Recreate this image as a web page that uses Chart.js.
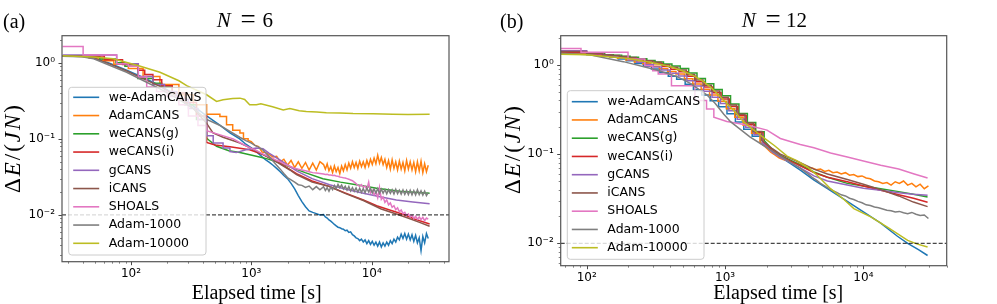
<!DOCTYPE html>
<html>
<head>
<meta charset="utf-8">
<script src="https://cdn.jsdelivr.net/npm/chart.js@4.4.0/dist/chart.umd.min.js"></script>
<style>
body { margin: 0; background: #fff; width: 997px; height: 304px; overflow: hidden; position: relative; }
canvas { position: absolute; top: 0; }
#chartA { left: 0; }
#chartB { left: 490px; }
</style>
</head>
<body>
<canvas id="chartA" width="490" height="304"></canvas>
<canvas id="chartB" width="507" height="304"></canvas>
<script>
// series names and colours (matplotlib tab10)
const names = ['we-AdamCANS', 'AdamCANS', 'weCANS(g)', 'weCANS(i)', 'gCANS', 'iCANS', 'SHOALS', 'Adam-1000', 'Adam-10000'];
const colors = ['#1f77b4', '#ff7f0e', '#2ca02c', '#d62728', '#9467bd', '#8c564b', '#e377c2', '#7f7f7f', '#bcbd22'];

// tick labels
const xTickVals = [100, 1000, 10000];
const yTickVals = [1, 0.1, 0.01];
const targetLevel = 0.01;

// axis ranges
const aXRange = [26.7, 43900];
const aYRange = [0.00243, 2.27];
const bXRange = [64.9, 40000];
const bYRange = [0.00561, 2.13];

// time grids for the noisy late parts [s]
const tGrid = [1000, 1072, 1148, 1230, 1318, 1413, 1514, 1622, 1738, 1862, 1995, 2138, 2291, 2455, 2630, 2818, 3020, 3236, 3467, 3715,
  3981, 4266, 4571, 4898, 5248, 5623, 6026, 6457, 6918, 7413, 7943, 8511, 9120, 9772, 10471, 11220, 12023, 12882, 13804, 14791,
  15849, 16982, 18197, 19498, 20893, 22387, 23988, 25704, 27542, 29512];
const tFine = [3981, 4121, 4266, 4416, 4571, 4732, 4898, 5070, 5248, 5433, 5623, 5821, 6026, 6237, 6457, 6683, 6918, 7161, 7413, 7674,
  7943, 8222, 8511, 8810, 9120, 9441, 9772, 10116, 10471, 10839, 11220, 11614, 12023, 12445, 12882, 13335, 13804, 14289, 14791, 15311,
  15849, 16406, 16982, 17579, 18197, 18836, 19498, 20184, 20893, 21627, 22387, 23174, 23988, 24831, 25704, 26607, 27542, 28510, 29512];

// ---------- panel (a), N = 6 ----------
const aBlueHead = [[27, 1.24], [40, 1.22], [50, 1.16], [67, 0.98], [92, 0.8], [126, 0.64], [174, 0.5], [250, 0.36], [330, 0.27], [425, 0.2], [550, 0.15], [664, 0.12], [800, 0.1], [900, 0.085]];
const aBlueMid = [0.076, 0.070, 0.064, 0.058, 0.053, 0.049, 0.045, 0.041, 0.037, 0.033, 0.030, 0.026, 0.022, 0.018, 0.0150, 0.0128, 0.0113, 0.0108, 0.0104, 0.0100];
const aBlueFine = [0.0101, 0.0094, 0.0091, 0.0086, 0.0083, 0.0079, 0.0075, 0.0072, 0.0069, 0.0068, 0.0066, 0.0065, 0.0062, 0.0063, 0.0059, 0.0060, 0.0055, 0.0053, 0.0050, 0.0049,
  0.0046, 0.0048, 0.0044, 0.0047, 0.0042, 0.0046, 0.0041, 0.0045, 0.0040, 0.0044, 0.0039, 0.0044, 0.0038, 0.0043, 0.0039, 0.0044, 0.0040, 0.0046, 0.0042, 0.0048,
  0.0044, 0.0051, 0.0047, 0.0056, 0.0049, 0.0057, 0.0048, 0.0056, 0.0047, 0.0055, 0.0045, 0.0054, 0.0043, 0.0050, 0.0034, 0.0052, 0.0043, 0.0057, 0.0049];

const aOrangeHead = [[27, 1.24], [45, 1.16], [58, 1.06], [72, 0.96], [95, 0.84], [126, 0.66], [174, 0.52], [250, 0.38], [330, 0.28], [425, 0.21], [548, 0.197], [622, 0.153], [700, 0.13], [804, 0.119], [860, 0.1], [940, 0.095]];
const aOrangeMid = [0.092, 0.082, 0.079, 0.067, 0.066, 0.062, 0.058, 0.059, 0.050, 0.054, 0.045, 0.052, 0.042, 0.050, 0.041, 0.049, 0.039, 0.048, 0.039, 0.050];
const aOrangeFine = [0.046, 0.040, 0.047, 0.038, 0.043, 0.036, 0.044, 0.037, 0.042, 0.035, 0.044, 0.038, 0.046, 0.039, 0.048, 0.041, 0.050, 0.042, 0.049, 0.041,
  0.051, 0.043, 0.050, 0.042, 0.052, 0.044, 0.054, 0.046, 0.056, 0.047, 0.061, 0.048, 0.057, 0.046, 0.054, 0.042, 0.052, 0.040, 0.053, 0.041,
  0.050, 0.039, 0.051, 0.040, 0.049, 0.038, 0.052, 0.040, 0.050, 0.039, 0.049, 0.037, 0.050, 0.038, 0.051, 0.036, 0.047, 0.037, 0.045];

const aGreenHead = [[27, 1.22], [55, 1.12], [75, 1.0], [89, 0.9], [114, 0.62], [152, 0.54], [180, 0.48], [220, 0.4], [280, 0.28], [350, 0.18], [425, 0.102]];
const aGreenRest = [[514, 0.08], [650, 0.07], [804, 0.066], [1100, 0.059], [1336, 0.055], [1700, 0.049], [2090, 0.043], [2800, 0.036], [3930, 0.030], [5500, 0.027],
  [7450, 0.025], [11000, 0.0225], [17000, 0.0205], [24000, 0.0197], [30300, 0.0193]];

const aRedHead = [[27, 1.23], [60, 1.1], [85, 0.95], [114, 0.8], [130, 0.7], [152, 0.6], [180, 0.5], [220, 0.4], [280, 0.3], [350, 0.2], [425, 0.09]];
const aRedRest = [[500, 0.083], [664, 0.079], [968, 0.072], [1254, 0.062], [1725, 0.048], [2373, 0.035], [3200, 0.028], [4470, 0.0236], [6000, 0.0195], [8530, 0.0157],
  [11000, 0.0132], [14100, 0.0116], [18200, 0.0102], [23000, 0.0088], [30300, 0.0076]];

const aPurpleHead = [[27, 1.27], [76, 0.97], [115, 0.66], [152, 0.52], [190, 0.42], [240, 0.33], [300, 0.25], [360, 0.18], [425, 0.11], [482, 0.088], [582, 0.076], [664, 0.068]];
const aPurpleRest = [[750, 0.066], [900, 0.072], [1100, 0.076], [1250, 0.074], [1400, 0.065], [1725, 0.053], [2373, 0.038], [3200, 0.03], [4470, 0.025], [6000, 0.022],
  [8530, 0.0193], [12000, 0.0172], [16030, 0.0157], [22000, 0.0148], [30300, 0.014]];

const aBrown = [[27, 1.23], [40, 1.21], [50, 1.14], [67, 0.96], [92, 0.78], [126, 0.62], [174, 0.49], [250, 0.35], [330, 0.25], [425, 0.16], [480, 0.12], [582, 0.105],
  [700, 0.095], [804, 0.088], [1000, 0.075], [1254, 0.062], [1520, 0.053], [2090, 0.039], [2373, 0.034], [3200, 0.027], [4470, 0.0236], [6000, 0.0192], [8530, 0.0155],
  [12000, 0.012], [16030, 0.0103], [20000, 0.0091], [25000, 0.008], [30300, 0.0071]];

const aPinkHead = [[27, 1.64], [40, 1.27], [76, 0.97], [95, 0.9], [115, 0.65], [135, 0.48], [163, 0.42], [200, 0.36], [250, 0.28], [300, 0.2], [360, 0.15], [425, 0.128]];
const aPinkEarly = [[560, 0.112], [706, 0.1], [850, 0.085]];
const aPinkMid = [0.075, 0.072, 0.068, 0.064, 0.061, 0.058, 0.055, 0.052, 0.050, 0.047, 0.045, 0.043, 0.041, 0.040, 0.039, 0.038, 0.037, 0.036, 0.0355, 0.035];
const aPinkFine = [0.0345, 0.0340, 0.0342, 0.0336, 0.0335, 0.0330, 0.0332, 0.0325, 0.0322, 0.0316, 0.0312, 0.0308, 0.0306, 0.0300, 0.0294, 0.0288, 0.0282, 0.0270, 0.0258, 0.0246,
  0.0238, 0.0250, 0.0232, 0.0240, 0.0218, 0.0270, 0.0195, 0.0210, 0.0185, 0.0200, 0.0168, 0.0230, 0.0160, 0.0172, 0.0146, 0.0158, 0.0136, 0.0144, 0.0126, 0.0132,
  0.0117, 0.0124, 0.0110, 0.0116, 0.0104, 0.0108, 0.0098, 0.0103, 0.0094, 0.0099, 0.0090, 0.0096, 0.0088, 0.0094, 0.0087, 0.0093, 0.0084, 0.0091, 0.0088];

const aGrayHead = [[27, 1.22], [39, 1.2], [49, 1.13], [67, 0.92], [92, 0.75], [126, 0.585], [174, 0.455], [250, 0.33], [330, 0.25], [425, 0.18], [550, 0.15], [664, 0.125], [800, 0.105], [900, 0.095]];
const aGrayMid = [0.088, 0.082, 0.078, 0.073, 0.065, 0.058, 0.051, 0.045, 0.040, 0.035, 0.031, 0.029, 0.027, 0.025, 0.0245, 0.023, 0.0240, 0.0215, 0.0236, 0.0214];
const aGrayFine = [0.0235, 0.0210, 0.0228, 0.0205, 0.0232, 0.0215, 0.0245, 0.0222, 0.0252, 0.0228, 0.0248, 0.0220, 0.0238, 0.0212, 0.0236, 0.0206, 0.0228, 0.0204, 0.0226, 0.0200,
  0.0224, 0.0198, 0.0222, 0.0196, 0.0226, 0.0200, 0.0224, 0.0195, 0.0220, 0.0194, 0.0222, 0.0192, 0.0218, 0.0193, 0.0216, 0.0190, 0.0215, 0.0192, 0.0214, 0.0189,
  0.0218, 0.0190, 0.0212, 0.0188, 0.0213, 0.0186, 0.0210, 0.0185, 0.0211, 0.0184, 0.0209, 0.0183, 0.0214, 0.0185, 0.0208, 0.0182, 0.0206, 0.0180, 0.0196];

const aOlive = [[27, 1.24], [49, 1.19], [71, 1.13], [114, 0.92], [174, 0.75], [250, 0.58], [290, 0.5], [425, 0.38], [514, 0.31], [582, 0.326], [700, 0.34], [804, 0.343],
  [880, 0.33], [968, 0.28], [1100, 0.28], [1200, 0.29], [1500, 0.265], [1840, 0.24], [2090, 0.25], [2500, 0.235], [2860, 0.229], [3500, 0.225], [4200, 0.221],
  [5420, 0.218], [7000, 0.215], [10260, 0.214], [15000, 0.211], [20000, 0.209], [30300, 0.21]];

// ---------- panel (b), N = 12 ----------
const bBlueHead = [[65, 1.37], [100, 1.31], [127, 1.267], [147, 1.225], [169, 1.169], [194, 1.116], [223, 1.039], [257, 0.968], [294, 0.9], [338, 0.822], [389, 0.749],
  [447, 0.693], [515, 0.608], [591, 0.529], [679, 0.462], [781, 0.398], [899, 0.339], [1033, 0.283], [1188, 0.23], [1366, 0.19], [1571, 0.159], [1807, 0.132]];
const bBlueRest = [[2000, 0.12], [2500, 0.093], [3000, 0.078], [3500, 0.066], [4400, 0.051], [5500, 0.041], [7650, 0.0295], [10000, 0.0225], [13340, 0.0168],
  [17620, 0.012], [20900, 0.0100], [25000, 0.0085], [29100, 0.0073]];

const bOrangeHead = [[65, 1.36], [100, 1.31], [126, 1.267], [146, 1.238], [167, 1.193], [192, 1.14], [221, 1.083], [254, 1.031], [291, 0.97], [335, 0.906], [385, 0.845],
  [442, 0.791], [509, 0.702], [585, 0.611], [672, 0.534], [773, 0.46], [889, 0.391], [1022, 0.323], [1176, 0.259], [1352, 0.211], [1555, 0.172], [1789, 0.138]];
const bOrangeTail = [0.105, 0.098, 0.091, 0.087, 0.085, 0.082, 0.080, 0.077, 0.075, 0.071, 0.070, 0.067, 0.068, 0.064, 0.066, 0.062, 0.063, 0.060, 0.062, 0.058,
  0.059, 0.056, 0.057, 0.054, 0.053, 0.050, 0.049, 0.047, 0.048, 0.045, 0.049, 0.047, 0.050, 0.045, 0.047, 0.043, 0.046, 0.041, 0.044];

const bGreenHead = [[65, 1.40], [100, 1.34], [135, 1.306], [156, 1.288], [179, 1.253], [206, 1.221], [237, 1.171], [272, 1.126], [312, 1.08], [359, 1.027], [413, 0.976],
  [474, 0.913], [546, 0.811], [627, 0.706], [721, 0.616], [829, 0.531], [954, 0.451], [1096, 0.366], [1260, 0.285], [1450, 0.226], [1667, 0.178], [1918, 0.142]];
const bGreenRest = [[2200, 0.112], [2510, 0.097], [3000, 0.085], [3500, 0.075], [4390, 0.063], [5500, 0.055], [7650, 0.047], [10000, 0.044], [13340, 0.041],
  [18000, 0.038], [23000, 0.0355], [29100, 0.0331]];

const bRedHead = [[65, 1.38], [100, 1.32], [133, 1.28], [153, 1.25], [175, 1.217], [202, 1.175], [233, 1.127], [267, 1.073], [306, 1.03], [352, 0.962], [405, 0.897],
  [465, 0.839], [536, 0.746], [615, 0.649], [707, 0.567], [813, 0.488], [935, 0.415], [1075, 0.343], [1236, 0.272], [1422, 0.217], [1635, 0.175], [1881, 0.138]];
const bRedRest = [[2200, 0.11], [2510, 0.095], [3000, 0.083], [3500, 0.074], [4390, 0.062], [5500, 0.055], [7650, 0.049], [10000, 0.044], [13340, 0.0394],
  [18000, 0.035], [23000, 0.032], [29100, 0.0289]];

const bPurpleHead = [[65, 1.44], [100, 1.34], [131, 1.28], [152, 1.25], [174, 1.193], [200, 1.14], [230, 1.072], [265, 1.01], [303, 0.95], [348, 0.878], [401, 0.81],
  [461, 0.75], [530, 0.666], [609, 0.58], [700, 0.506], [805, 0.436], [926, 0.371], [1065, 0.306], [1224, 0.246], [1408, 0.2], [1619, 0.165], [1862, 0.134]];
const bPurpleRest = [[2200, 0.105], [2510, 0.092], [3000, 0.08], [3500, 0.07], [4390, 0.057], [5500, 0.05], [7650, 0.045], [10000, 0.0415], [13340, 0.0394],
  [18000, 0.037], [23000, 0.0355], [29100, 0.0346]];

const bBrownHead = [[65, 1.42], [100, 1.35], [130, 1.293], [150, 1.275], [172, 1.241], [198, 1.21], [228, 1.16], [262, 1.115], [300, 1.07], [345, 1.009], [397, 0.941],
  [456, 0.88], [525, 0.782], [603, 0.68], [693, 0.594], [797, 0.512], [917, 0.435], [1054, 0.356], [1212, 0.28], [1394, 0.224], [1603, 0.18], [1844, 0.143]];
const bBrownRest = [[2200, 0.115], [2510, 0.1], [3000, 0.089], [3500, 0.08], [4390, 0.068], [5500, 0.06], [7650, 0.052], [10000, 0.046], [13340, 0.04],
  [18000, 0.034], [23000, 0.029], [29100, 0.0258]];

const bPinkHead = [[65, 1.53], [91, 1.39], [199, 1.17], [263, 0.98], [300, 0.86], [329, 0.79], [410, 0.585], [606, 0.40], [735, 0.32], [830, 0.26]];
const bPinkRest = [[1030, 0.232], [1440, 0.212], [2010, 0.186], [2510, 0.15], [3000, 0.138], [3500, 0.128], [4390, 0.118], [5790, 0.103], [7650, 0.093],
  [10000, 0.084], [13340, 0.0752], [18000, 0.068], [23300, 0.06], [29100, 0.054]];

const bGrayHead = [[65, 1.35], [105, 1.3], [184, 1.09], [321, 0.88], [450, 0.74], [561, 0.623], [741, 0.46], [850, 0.37], [980, 0.28], [1100, 0.23], [1290, 0.19],
  [1520, 0.155], [1900, 0.125]];
const bGrayTail = [0.112, 0.104, 0.097, 0.091, 0.085, 0.080, 0.075, 0.070, 0.065, 0.060, 0.055, 0.051, 0.047, 0.044, 0.041, 0.039, 0.037, 0.035, 0.034, 0.032,
  0.031, 0.0295, 0.0285, 0.027, 0.0265, 0.0255, 0.025, 0.0243, 0.0235, 0.0232, 0.0225, 0.0228, 0.0220, 0.0215, 0.0222, 0.0212, 0.0205, 0.0208, 0.0190];

const bOlive = [[65, 1.32], [100, 1.3], [200, 1.18], [300, 1.06], [400, 0.96], [500, 0.85], [600, 0.75], [700, 0.65], [800, 0.55], [900, 0.46], [980, 0.4],
  [1090, 0.34], [1200, 0.29], [1365, 0.23], [1700, 0.175], [2010, 0.144], [2270, 0.125], [2810, 0.095], [3330, 0.084], [3930, 0.072], [4630, 0.058], [5790, 0.041],
  [7240, 0.031], [8530, 0.0245], [11300, 0.0198], [14900, 0.0152], [20900, 0.0108], [24600, 0.0098], [29100, 0.0091]];

// step levels -> corner points
function stairs(pts) {
  const out = [];
  pts.forEach((p, i) => {
    if (i > 0) out.push([p[0], pts[i - 1][1]]);
    out.push(p);
  });
  return out;
}
function onGrid(ys, start) {
  return ys.map((y, i) => [tGrid[start + i], y]);
}
function onFine(ys) {
  return ys.map((y, i) => [tFine[i], y]);
}

const seriesA = [
  aBlueHead.concat(onGrid(aBlueMid, 0), onFine(aBlueFine)),
  stairs(aOrangeHead).concat(onGrid(aOrangeMid, 0), onFine(aOrangeFine)),
  stairs(aGreenHead).concat(aGreenRest),
  stairs(aRedHead).concat(aRedRest),
  stairs(aPurpleHead).concat(aPurpleRest),
  aBrown,
  stairs(aPinkHead).concat(aPinkEarly, onGrid(aPinkMid, 0), onFine(aPinkFine)),
  aGrayHead.concat(onGrid(aGrayMid, 0), onFine(aGrayFine)),
  aOlive
];
const seriesB = [
  stairs(bBlueHead).concat(bBlueRest),
  stairs(bOrangeHead).concat(onGrid(bOrangeTail, 11)),
  stairs(bGreenHead).concat(bGreenRest),
  stairs(bRedHead).concat(bRedRest),
  stairs(bPurpleHead).concat(bPurpleRest),
  stairs(bBrownHead).concat(bBrownRest),
  stairs(bPinkHead).concat(bPinkRest),
  bGrayHead.concat(onGrid(bGrayTail, 11)),
  bOlive
];

const sup = {'-': '\u207b', '0': '\u2070', '1': '\u00b9', '2': '\u00b2', '3': '\u00b3', '4': '\u2074'};
function decadeLabel(v) {
  const e = Math.round(Math.log10(v));
  return '10' + String(e).split('').map(c => sup[c]).join('');
}

function logTicks(min, max) {
  const out = [];
  for (let e = Math.floor(Math.log10(min)); e <= Math.ceil(Math.log10(max)); e++) {
    for (let m = 1; m <= 9; m++) {
      const v = m * Math.pow(10, e);
      if (v >= min && v <= max) out.push({v: v, major: m === 1});
    }
  }
  return out;
}

function roundRect(ctx, x, y, w, h, r) {
  ctx.beginPath();
  ctx.moveTo(x + r, y);
  ctx.lineTo(x + w - r, y); ctx.arcTo(x + w, y, x + w, y + r, r);
  ctx.lineTo(x + w, y + h - r); ctx.arcTo(x + w, y + h, x + w - r, y + h, r);
  ctx.lineTo(x + r, y + h); ctx.arcTo(x, y + h, x, y + h - r, r);
  ctx.lineTo(x, y + r); ctx.arcTo(x, y, x + r, y, r);
  ctx.closePath();
}

const SERIF = '"Liberation Serif", "DejaVu Serif", serif';

// pieces: [text, italic, x, y, size]
function drawPieces(ctx, pieces) {
  pieces.forEach(p => {
    ctx.font = (p[1] ? 'italic ' : '') + p[4] + 'px ' + SERIF;
    ctx.fillText(p[0], p[2], p[3]);
  });
}

function decoPlugin(o) {
  return {
    id: 'deco',
    afterDatasetsDraw(chart) {
      const ctx = chart.ctx;
      const L = o.legend;
      ctx.save();
      roundRect(ctx, L.x, L.y, L.w, L.h, 3);
      ctx.fillStyle = 'rgba(255,255,255,0.8)';
      ctx.fill();
      ctx.strokeStyle = '#cccccc';
      ctx.lineWidth = 1;
      ctx.stroke();
      ctx.font = '12.5px "DejaVu Sans"';
      ctx.textBaseline = 'middle';
      ctx.fillStyle = '#000';
      chart.data.datasets.forEach((d, i) => {
        if (d.isRef) return;
        const y = L.y + L.first + i * 18.25;
        ctx.strokeStyle = d.borderColor;
        ctx.lineWidth = 1.6;
        ctx.beginPath();
        ctx.moveTo(L.x + 4.5, y);
        ctx.lineTo(L.x + 30.5, y);
        ctx.stroke();
        ctx.fillText(d.label, L.x + 40, y);
      });
      ctx.restore();
    },
    afterDraw(chart) {
      const ctx = chart.ctx, a = chart.chartArea;
      const sx = chart.scales.x, sy = chart.scales.y;
      ctx.save();
      ctx.strokeStyle = '#333';
      logTicks(sx.min, sx.max).forEach(t => {
        const p = Math.round(sx.getPixelForValue(t.v)) + 0.5;
        ctx.lineWidth = t.major ? 0.9 : 0.6;
        ctx.beginPath(); ctx.moveTo(p, a.bottom); ctx.lineTo(p, a.bottom + (t.major ? 3.5 : 2)); ctx.stroke();
      });
      logTicks(sy.min, sy.max).forEach(t => {
        const p = Math.round(sy.getPixelForValue(t.v)) + 0.5;
        ctx.lineWidth = t.major ? 0.9 : 0.6;
        ctx.beginPath(); ctx.moveTo(a.left, p); ctx.lineTo(a.left - (t.major ? 3.5 : 2), p); ctx.stroke();
      });
      ctx.strokeStyle = '#555';
      ctx.lineWidth = 1.2;
      ctx.strokeRect(a.left, a.top, a.right - a.left, a.bottom - a.top);

      ctx.fillStyle = '#000';
      ctx.textBaseline = 'alphabetic';
      ctx.textAlign = 'left';
      drawPieces(ctx, [[o.letter, false, o.letterX, 27.5, 20]]);
      drawPieces(ctx, o.title);

      ctx.textAlign = 'center';
      ctx.font = '20px ' + SERIF;
      ctx.fillText('Elapsed time [s]', o.xlabX, 299);

      // y label  ΔE/(JN)
      const parts = [['\u0394', false], ['E', true], ['/', false], ['(', false], ['J', true], ['N', true], [')', false]];
      ctx.textAlign = 'left';
      ctx.textBaseline = 'middle';
      let total = 0;
      const widths = parts.map(p => {
        ctx.font = (p[1] ? 'italic ' : '') + '23px ' + SERIF;
        const w = ctx.measureText(p[0]).width;
        total += w;
        return w;
      });
      const gap = Math.max(0, (88 - total) / (parts.length - 1));
      ctx.translate(o.ylabX, o.ylabY);
      ctx.rotate(-Math.PI / 2);
      let u = -(total + gap * (parts.length - 1)) / 2;
      parts.forEach((p, i) => {
        ctx.font = (p[1] ? 'italic ' : '') + '23px ' + SERIF;
        ctx.fillText(p[0], u, 0);
        u += widths[i] + gap;
      });
      ctx.restore();
    }
  };
}

function makeDatasets(series, xr) {
  const ds = series.map((d, i) => ({
    label: names[i],
    data: d,
    borderColor: colors[i],
    borderWidth: 1.5,
    pointRadius: 0,
    fill: false,
    tension: 0,
    order: -i
  }));
  ds.push({
    label: '',
    data: [[xr[0], targetLevel], [xr[1], targetLevel]],
    borderColor: 'rgba(0,0,0,0.72)',
    borderWidth: 1.2,
    borderDash: [4, 2],
    pointRadius: 0,
    order: -99,
    isRef: true
  });
  return ds;
}

function makeChart(id, series, o) {
  const tickFont = {family: 'DejaVu Sans', size: 12};
  return new Chart(document.getElementById(id), {
    type: 'line',
    data: {datasets: makeDatasets(series, o.xr)},
    options: {
      responsive: false,
      animation: false,
      devicePixelRatio: 1,
      events: [],
      layout: {padding: {top: o.top, right: o.right, left: 0, bottom: 0}},
      plugins: {legend: {display: false}, tooltip: {enabled: false}, title: {display: false}},
      scales: {
        x: {
          type: 'logarithmic',
          min: o.xr[0],
          max: o.xr[1],
          afterFit: s => { s.height = o.xh; },
          afterBuildTicks: s => { s.ticks = xTickVals.map(v => ({value: v})); },
          ticks: {callback: v => decadeLabel(v), autoSkip: false, maxRotation: 0, padding: 1, color: '#000', font: tickFont},
          grid: {display: true, drawOnChartArea: false, drawTicks: true, tickLength: 4, color: 'rgba(0,0,0,0)'},
          border: {display: false}
        },
        y: {
          type: 'logarithmic',
          min: o.yr[0],
          max: o.yr[1],
          afterFit: s => { s.width = o.yw; },
          afterBuildTicks: s => { s.ticks = yTickVals.map(v => ({value: v})); },
          ticks: {callback: v => decadeLabel(v), autoSkip: false, padding: 3, color: '#000', font: tickFont},
          grid: {display: true, drawOnChartArea: false, drawTicks: true, tickLength: 4, color: 'rgba(0,0,0,0)'},
          border: {display: false}
        }
      }
    },
    plugins: [decoPlugin(o)]
  });
}

makeChart('chartA', seriesA, {
  xr: aXRange, yr: aYRange, top: 35.7, right: 41, yw: 62, xh: 42.3,
  legend: {x: 68.7, y: 87.3, w: 137.3, h: 167.7, first: 10},
  letter: '(a)', letterX: 3,
  title: [['N', true, 216.7, 26.7, 21], ['=', false, 240.5, 27.5, 27], ['6', false, 262.5, 26.7, 21]],
  xlabX: 256.7, ylabX: 14, ylabY: 149
});
makeChart('chartB', seriesB, {
  xr: bXRange, yr: bYRange, top: 35.7, right: 50.3, yw: 70.7, xh: 38.3,
  legend: {x: 77.3, y: 90.7, w: 136.7, h: 168.6, first: 11},
  letter: '(b)', letterX: 10,
  title: [['N', true, 251.7, 26.7, 21], ['=', false, 275.5, 27.5, 27], ['12', false, 296, 26.7, 21]],
  xlabX: 288.3, ylabX: 24, ylabY: 150
});
</script>
</body>
</html>
